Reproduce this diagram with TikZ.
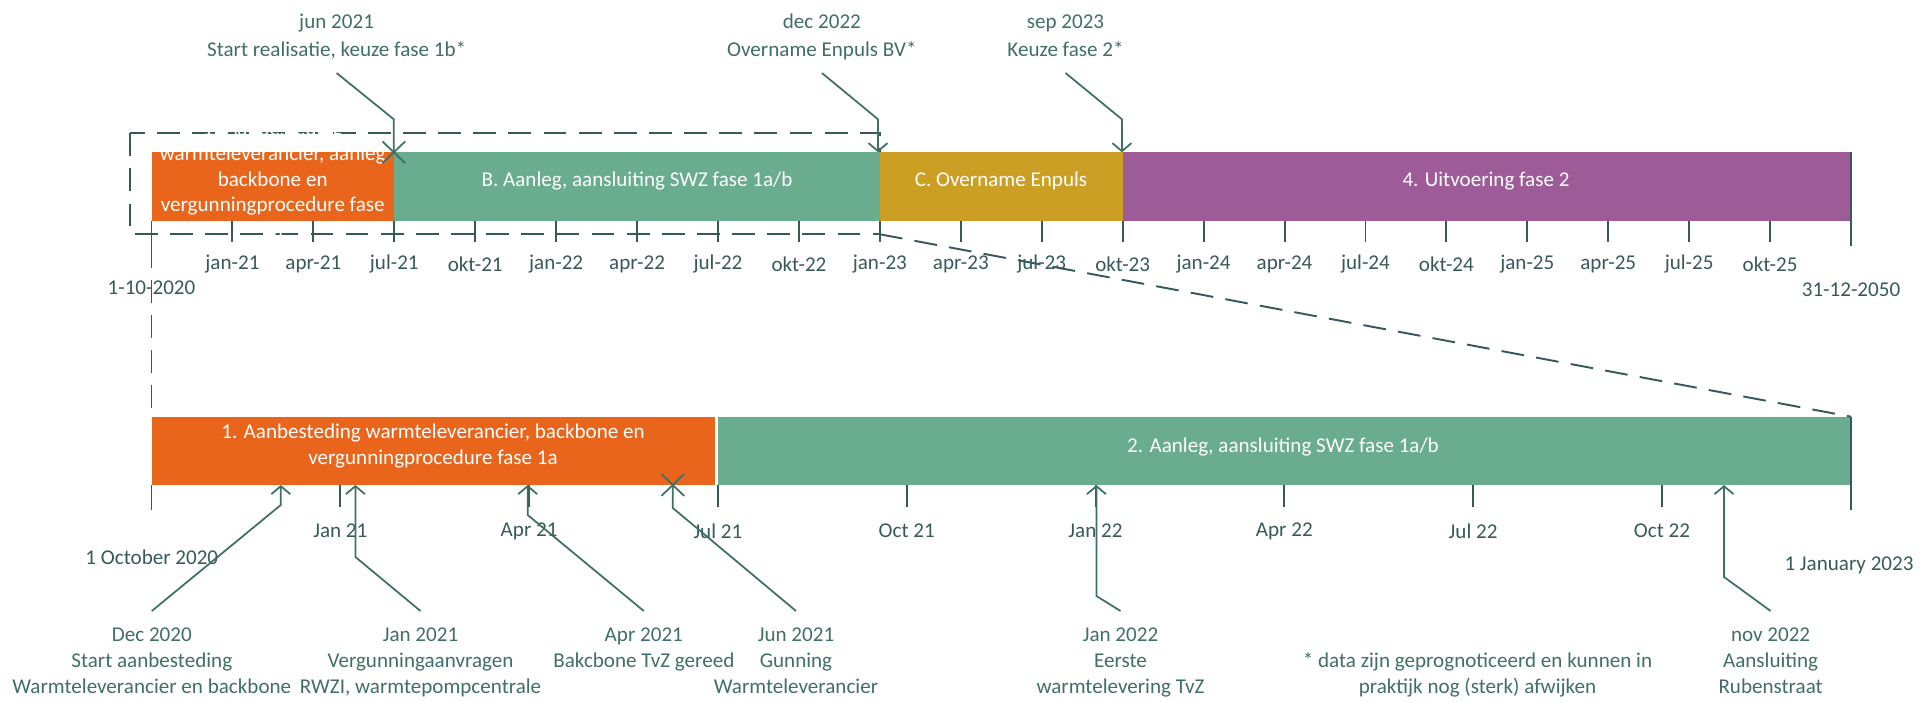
\documentclass[tikz,border=0pt]{standalone}
\usepackage{fontspec}
\setmainfont{Carlito}
\usetikzlibrary{shapes}
\usetikzlibrary{fit}
\usetikzlibrary{arrows.meta}
\definecolor{oranje}{HTML}{E9651B}
\definecolor{groen}{HTML}{69AC8E}
\definecolor{goud}{HTML}{CA9F24}
\definecolor{paars}{HTML}{9D5C97}
\definecolor{leisteen}{HTML}{38595C}
\definecolor{zeegroen}{HTML}{3F6F66}
\tikzset{fase/.style={fill=#1, inner sep=0pt, outer sep=0pt}}
\tikzset{fasetekst/.style={text=white, align=center, inner sep=0pt}}
\tikzset{streep/.style={draw=leisteen, line width=1.1pt}}
\tikzset{datum/.style={text=leisteen, inner sep=0pt}}
\tikzset{zoomlijn/.style={draw=leisteen, line width=1.1pt, dash pattern=on 13pt off 7pt}}
\tikzset{leider/.style={draw=zeegroen, line width=1pt}}
\tikzset{pijl/.style={{Straight Barb[length=1.6mm,width=3.8mm]}-}}
\tikzset{kruis/.style={cross out, draw=zeegroen, line width=1pt, minimum width=0.42cm, minimum height=0.4cm, inner sep=0pt}}
\tikzset{melding/.style={text=zeegroen, align=center, inner sep=0pt}}
\tikzset{%
  apply style/.code={%
    \tikzset{#1}%
  }
}

\begin{document}
\begin{tikzpicture}[x=0.02cm,y=-0.02cm,font=\fontsize{12}{14.7}\selectfont]
  \useasboundingbox (0,0) rectangle (1932,702);

  % kader rond het ingezoomde deel
  \draw[zoomlijn] (130.4,133.3) rectangle (879.9,234.3);

  % fasen boven
  \foreach \naam/\van/\tot/\kleur in {
    faseA/151.5/394.3/oranje,
    faseB/394.3/879.9/groen,
    faseC/879.9/1122.7/goud,
    faseD/1122.7/1851/paars%
  } {
    \node[fase=\kleur, fit={(\van,152.3) (\tot,220.7)}] (\naam) {};
  }

  % fasen onder
  \node[fase=oranje, fit={(151.5,416.7) (716.5,485)}] (fase1) {};
  \node[fase=groen, fit={(716.5,416.7) (1851,485)}] (fase2) {};
  \draw[white, line width=1.2pt] (fase2.north west) -- (fase2.south west);

  \draw[zoomlijn] (faseA.south west) ++(0,24) -- (fase1.north west);
  \draw[zoomlijn] (faseB.south east) ++(0,13.6) -- (fase2.north east);

  % tijdas boven
  \draw[streep] (faseA.south west) -- ++(0,24);
  \draw[streep] (faseD.north east) -- ++(0,94);
  \foreach \jaar in {21,...,25}
    \foreach \maand [count=\m] in {jan,apr,jul,okt} {
      \pgfmathsetmacro\xpos{151.5+((\jaar-21)*4+\m)*80.93}
      \draw[streep] (\xpos,220.7) -- ++(0,21);
      \node[datum] (as-\maand\jaar) at (\xpos,264) {\maand-\jaar};
    }
  \node[datum] (start) at (151.5,288) {1-10-2020};
  \node[datum] (eind) at (1851,290) {31-12-2050};

  % tijdas onder
  \draw[streep] (fase1.south west) -- ++(0,25);
  \draw[streep] (fase2.north east) -- ++(0,93.3);
  \foreach \lab [count=\i] in {Jan 21, Apr 21, Jul 21, Oct 21, Jan 22, Apr 22, Jul 22, Oct 22} {
    \draw[streep] ({151.5+\i*188.8},485) -- ++(0,22);
    \node[datum] (onder-\i) at ({151.5+\i*188.8},531) {\lab};
  }
  \node[datum] (startonder) at (151.8,557) {1 October 2020};
  \node[datum] (eindonder) at (1849,565) {1 January 2023};

  % teksten in de fasen
  \node[fasetekst, font=\fontsize{12}{14.5}\selectfont] (tekstA) at (272.7,179) {1. Aanbesteding\\warmteleverancier, aanleg\\backbone en\\vergunningprocedure fase\\1a};
  \node[fasetekst] (tekstB) at (637,181) {B. Aanleg, aansluiting SWZ fase 1a/b};
  \node[fasetekst] (tekstC) at (1001,181) {C. Overname Enpuls};
  \node[fasetekst] (tekstD) at (1486,181) {4. Uitvoering fase 2};
  \node[fasetekst] (tekst1) at (433,446) {1. Aanbesteding warmteleverancier, backbone en\\vergunningprocedure fase 1a};
  \node[fasetekst] (tekst2) at (1283,447) {2. Aanleg, aansluiting SWZ fase 1a/b};

  % mijlpalen boven
  \foreach \naam/\x/\tx/\tekst/\soort in {
    jun21/393.8/336.6/{jun 2021\\Start realisatie, keuze fase 1b*}/{},
    dec22/878/821.9/{dec 2022\\Overname Enpuls BV*}/pijl,
    sep23/1121.9/1065.5/{sep 2023\\Keuze fase 2*}/pijl%
  } {
    \coordinate (\naam-m) at (\x,152.3);
    \node[melding, font=\fontsize{12}{15.9}\selectfont, text depth=0pt, outer ysep=9.2pt, anchor=south] (\naam) at (\tx,73) {\tekst};
    \draw[leider, apply style/.expand once=\soort] (\naam-m) -- ++(0,-33) -- (\naam.south);
  }

  % mijlpalen onder
  \foreach \naam/\x/\knik/\tx/\tekst/\soort in {
    dec20/280.8/20/151.8/{Dec 2020\\Start aanbesteding\\Warmteleverancier en backbone}/pijl,
    jan21/355.4/72/420.5/{Jan 2021\\Vergunningaanvragen\\RWZI, warmtepompcentrale}/pijl,
    apr21/527.7/30/643.8/{Apr 2021\\Bakcbone TvZ gereed}/pijl,
    jun21b/672.8/23/796/{Jun 2021\\Gunning\\Warmteleverancier}/{},
    jan22/1096.4/111/1120.5/{Jan 2022\\Eerste\\warmtelevering TvZ}/pijl,
    nov22/1724/92/1770.6/{nov 2022\\Aansluiting\\Rubenstraat}/pijl%
  } {
    \coordinate (\naam-m) at (\x,485);
    \node[melding, outer ysep=9.7pt, anchor=north] (\naam) at (\tx,611) {\tekst};
    \draw[leider, apply style/.expand once=\soort] (\naam-m) -- ++(0,\knik) -- (\naam.north);
  }
  \node[kruis] (jun21-x) at (jun21-m) {};
  \node[kruis] (jun21b-x) at (jun21b-m) {};

  \node[melding, font=\fontsize{12}{14.5}\selectfont] (voetnoot) at (1477.5,675) {* data zijn geprognoticeerd en kunnen in\\praktijk nog (sterk) afwijken};
\end{tikzpicture}
\end{document}
